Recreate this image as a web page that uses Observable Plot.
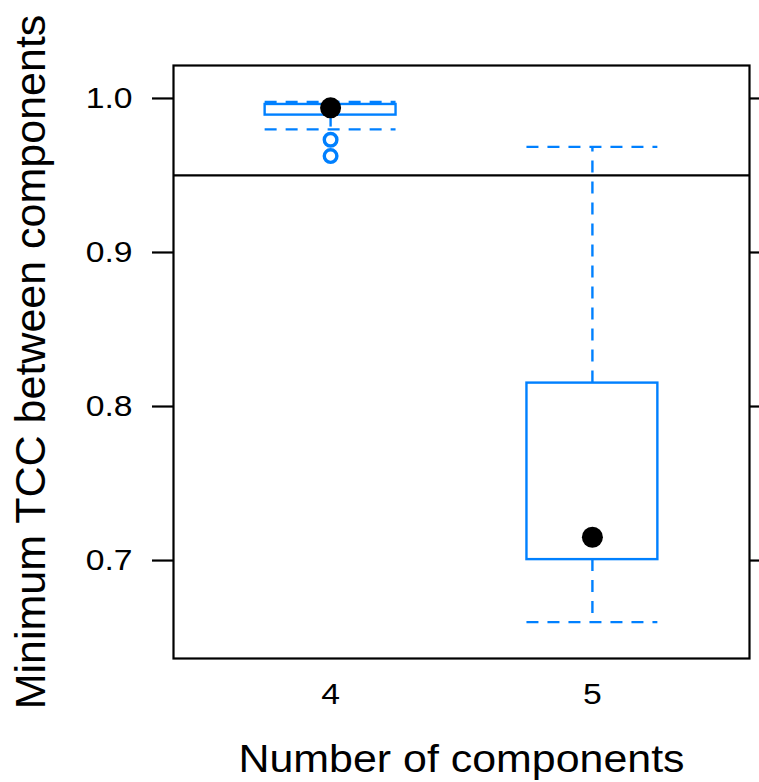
<!DOCTYPE html>
<html>
<head>
<meta charset="utf-8">
<script src="https://cdn.jsdelivr.net/npm/d3@7"></script>
<script src="https://cdn.jsdelivr.net/npm/@observablehq/plot@0.6"></script>
<style>
  html, body { margin: 0; padding: 0; background: #fff; }
  #chart { width: 759px; height: 782px; }
</style>
</head>
<body>
<div id="chart"></div>
<script>
// ---- data ----
const groups      = [4, 5];
const boxLow      = [0.9892, 0.7006];   // lower hinge
const boxHigh     = [0.9961, 0.8152];   // upper hinge
const medians     = [0.9939, 0.7151];
const whiskerLow  = [0.9799, 0.6600];
const whiskerHigh = [0.9978, 0.9686];
const outlierGroup  = [4, 4];
const outlierValues = [0.9732, 0.9626];
const refLine = [0.95];
const yTicks = [0.7, 0.8, 0.9, 1.0];
const xTitle = "Number of components";
const yTitle = "Minimum TCC between components";

const boxes = groups.map((g, i) => ({
  g, lo: boxLow[i], hi: boxHigh[i], med: medians[i],
  wlo: whiskerLow[i], whi: whiskerHigh[i]
}));
const outliers = outlierGroup.map((g, i) => ({g, v: outlierValues[i]}));

const blue = "#0080ff";
const half = 0.25;
const dash = "12,9";
const lw = 2.4;
const font = "'Liberation Sans', Arial, Helvetica, sans-serif";

const chart = Plot.plot({
  width: 759,
  height: 782,
  marginLeft: 173,
  marginRight: 10,
  marginTop: 65,
  marginBottom: 124,
  style: {fontFamily: font, fontSize: "29px", background: "#fff", color: "#000", overflow: "visible"},
  x: {type: "linear", domain: [3.4, 5.6]},
  y: {domain: [0.6364, 1.0214]},
  marks: [
    Plot.ruleY(refLine, {stroke: "black", strokeWidth: 2.2}),
    // whisker vertical segments
    Plot.ruleX(boxes, {x: "g", y1: "hi", y2: "whi", stroke: blue, strokeWidth: lw, strokeDasharray: dash}),
    Plot.ruleX(boxes, {x: "g", y1: "lo", y2: "wlo", stroke: blue, strokeWidth: lw, strokeDasharray: dash}),
    // whisker caps
    Plot.ruleY(boxes, {y: "whi", x1: d => d.g - half, x2: d => d.g + half, stroke: blue, strokeWidth: lw, strokeDasharray: dash}),
    Plot.ruleY(boxes, {y: "wlo", x1: d => d.g - half, x2: d => d.g + half, stroke: blue, strokeWidth: lw, strokeDasharray: dash}),
    // boxes
    Plot.rect(boxes, {x1: d => d.g - half, x2: d => d.g + half, y1: "lo", y2: "hi", fill: "white", stroke: blue, strokeWidth: lw}),
    // outliers
    Plot.dot(outliers, {x: "g", y: "v", r: 6.3, stroke: blue, strokeWidth: 3.4, fill: "none"}),
    // medians
    Plot.dot(boxes, {x: "g", y: "med", r: 10.5, fill: "black", stroke: "none"}),
    Plot.frame({stroke: "black", strokeWidth: 2.2}),
    Plot.axisY({ticks: yTicks, tickSize: 21, tickPadding: 20, tickFormat: d3.format(".1f"),
                fontSize: 29.3, strokeWidth: 2.2, label: null}),
    Plot.axisY({anchor: "right", ticks: yTicks, tickSize: 10, tickFormat: () => "",
                strokeWidth: 2.2, label: null}),
    Plot.axisX({ticks: groups, tickSize: 0, tickPadding: 25, tickFormat: d => String(d),
                fontSize: 29.3, label: null}),
    Plot.text([xTitle], {text: d => d, frameAnchor: "bottom", lineAnchor: "middle", textAnchor: "middle",
                         dy: 101.8, fontSize: 38, fill: "black"}),
    Plot.text([yTitle], {text: d => d, frameAnchor: "left", lineAnchor: "middle", textAnchor: "middle",
                         rotate: -90, dx: -141.8, fontSize: 43, fill: "black"})
  ]
});
document.getElementById("chart").appendChild(chart);

// widen horizontal texts slightly, as in the reference rendering (scale about each anchor)
function widen(nodes, s) {
  nodes.forEach(t => {
    const tr = t.getAttribute("transform");
    if (tr && /translate/.test(tr)) {
      t.setAttribute("transform", tr + ` scale(${s},1)`);
    } else {
      const x = +(t.getAttribute("x") || 0), y = +(t.getAttribute("y") || 0);
      t.setAttribute("transform", `${tr || ""} translate(${x},${y}) scale(${s},1) translate(${-x},${-y})`);
    }
  });
}
widen(chart.querySelectorAll('[aria-label="y-axis tick label"] text'), 1.15);
widen(chart.querySelectorAll('[aria-label="x-axis tick label"] text'), 1.15);
widen([...chart.querySelectorAll("text")].filter(t => t.textContent === xTitle), 1.13);
</script>
</body>
</html>
